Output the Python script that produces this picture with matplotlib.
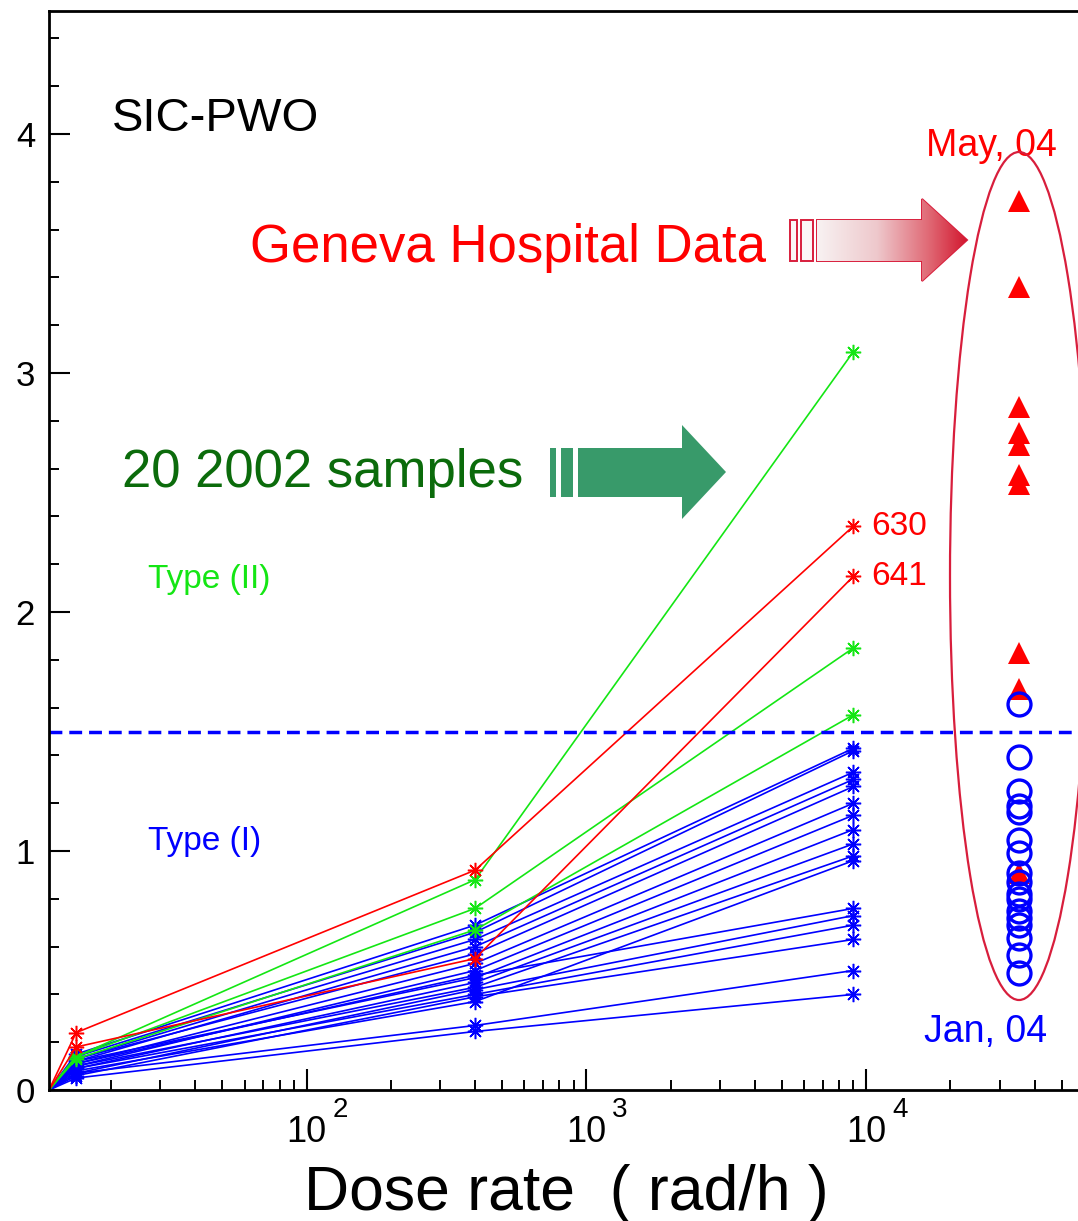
"""
SIC-PWO crystals: induced absorption versus dose rate, with the
Geneva Hospital data column on the right.
"""

import matplotlib
matplotlib.use("Agg")

import matplotlib.pyplot as plt
import numpy as np
from matplotlib.colors import LinearSegmentedColormap
from matplotlib.patches import Ellipse, Polygon, Rectangle
from matplotlib.ticker import FixedLocator, FuncFormatter, LogLocator, MultipleLocator, NullFormatter


FONT = "Liberation Sans"
plt.rcParams["font.family"] = [FONT, "DejaVu Sans"]

# dose rate points (rad/h); the first one is where every curve starts at zero
DOSE_RATES = [12, 15, 400, 9000]
HOSPITAL_RATE = 35000

RED_START = [0.24, 0.18]
RED_400 = [0.92, 0.55]
RED_9000 = [2.36, 2.15]
RED_LABELS = ["630", "641"]

GREEN_START = [0.14, 0.14, 0.13]
GREEN_400 = [0.88, 0.76, 0.67]
GREEN_9000 = [3.09, 1.85, 1.57]

BLUE_START = [0.15, 0.14, 0.13, 0.12, 0.13, 0.11, 0.10, 0.12, 0.09,
              0.10, 0.08, 0.11, 0.07, 0.09, 0.06, 0.07, 0.05]
BLUE_400 = [0.69, 0.66, 0.63, 0.60, 0.57, 0.53, 0.50, 0.47, 0.45,
            0.43, 0.37, 0.48, 0.42, 0.40, 0.39, 0.27, 0.245]
BLUE_9000 = [1.43, 1.42, 1.33, 1.30, 1.27, 1.20, 1.15, 1.09, 1.03,
             0.98, 0.96, 0.76, 0.73, 0.69, 0.63, 0.50, 0.40]

# Geneva Hospital measurements
MAY_04 = [3.72, 3.36, 2.86, 2.75, 2.70, 2.575, 2.535, 1.83, 1.68, 0.91]
JAN_04 = [1.615, 1.395, 1.25, 1.19, 1.165, 1.045, 0.99, 0.91, 0.87,
          0.82, 0.80, 0.75, 0.72, 0.69, 0.635, 0.565, 0.49]

TYPE_LIMIT = 1.5
X_TICKS = [1e2, 1e3, 1e4]
X_EXPONENTS = ["2", "3", "4"]

RED = "#ff0000"
GREEN = "#14e614"
BLUE = "#0000ff"
CRIMSON = "#d81e3c"
ARROW_GREEN = "#389a6a"
TEXT_GREEN = "#0b6b0b"

W, H = 1078, 1221
ASTERISK = (8, 2, 0)


def draw_series(ax, starts, mid, end, color):
    for a, b, c in zip(starts, mid, end):
        ax.plot(DOSE_RATES, [0, a, b, c], color=color, linewidth=1.2,
                marker=ASTERISK, markersize=11, markeredgewidth=1.1,
                markevery=[1, 2, 3])


def setup_axes(fig):
    ax = fig.add_axes([49 / W, (H - 1090) / H, (1084 - 49) / W, (1090 - 11) / H])
    ax.set_xscale("log")
    ax.set_xlim(12, 6e4)
    ax.set_ylim(0, 4.515)

    ax.xaxis.set_major_locator(FixedLocator(X_TICKS))
    ax.xaxis.set_major_formatter(FuncFormatter(lambda v, p: "10"))
    ax.xaxis.set_minor_locator(LogLocator(base=10, subs=range(2, 10)))
    ax.xaxis.set_minor_formatter(NullFormatter())
    ax.yaxis.set_major_locator(MultipleLocator(1))
    ax.yaxis.set_minor_locator(MultipleLocator(0.2))
    ax.yaxis.set_major_formatter(FuncFormatter(lambda v, p: f"{v:.0f}"))

    ax.tick_params(which="major", direction="in", length=15, width=1.5, labelsize=25)
    ax.tick_params(which="minor", direction="in", length=7.5, width=1.4)
    ax.tick_params(axis="y", pad=10)
    ax.tick_params(axis="x", pad=18, labelsize=26)
    for spine in ax.spines.values():
        spine.set_linewidth(2.0)

    for value, exp in zip(X_TICKS, X_EXPONENTS):
        ax.annotate(exp, (value, 0), xycoords=("data", "axes fraction"),
                    xytext=(18.5, -5.0), textcoords="offset points",
                    ha="left", va="top", fontsize=20)

    ax.set_xlabel("Dose rate  ( rad/h )", fontsize=45, va="baseline")
    ax.xaxis.set_label_coords(0.5, -120 / 1079)
    return ax


def draw_overlay(fig):
    """Arrows and the ellipse are drawn in pixel coordinates."""
    ov = fig.add_axes([0, 0, 1, 1], zorder=5)
    ov.set_xlim(0, W)
    ov.set_ylim(H, 0)
    ov.axis("off")
    ov.patch.set_alpha(0)

    ov.add_patch(Ellipse((1019, 576), 138, 848, fill=False, edgecolor=CRIMSON, linewidth=1.6))

    # green arrow
    for x0, x1 in [(550, 556), (561, 573)]:
        ov.add_patch(Rectangle((x0, 448), x1 - x0, 49, facecolor=ARROW_GREEN, edgecolor="none"))
    green_pts = [(578, 448), (682, 448), (682, 425), (726, 472), (682, 519), (682, 497), (578, 497)]
    ov.add_patch(Polygon(green_pts, closed=True, facecolor=ARROW_GREEN, edgecolor="none"))

    # red gradient arrow
    for x0, x1 in [(790, 797), (801, 813)]:
        ov.add_patch(Rectangle((x0, 220), x1 - x0, 41, facecolor="#fbf6f6",
                               edgecolor=CRIMSON, linewidth=1.4))
    red_pts = [(817, 220), (922, 220), (922, 199), (967, 240), (922, 281), (922, 261), (817, 261)]
    body = Polygon(red_pts, closed=True, facecolor="none", edgecolor=CRIMSON, linewidth=1.4)
    ov.add_patch(body)
    cmap = LinearSegmentedColormap.from_list(
        "geneva", [(0.0, "#f8f2f2"), (0.4, "#eec8cc"), (0.75, "#e06874"), (1.0, "#d2182f")])
    grad = np.linspace(0, 1, 256).reshape(1, -1)
    im = ov.imshow(grad, extent=[817, 967, 281, 199], cmap=cmap, aspect="auto", zorder=1)
    im.set_clip_path(body)
    ov.set_xlim(0, W)
    ov.set_ylim(H, 0)


def main():
    fig = plt.figure(figsize=(W / 100, H / 100), dpi=100)
    ax = setup_axes(fig)

    draw_series(ax, BLUE_START, BLUE_400, BLUE_9000, BLUE)
    draw_series(ax, GREEN_START, GREEN_400, GREEN_9000, GREEN)
    draw_series(ax, RED_START, RED_400, RED_9000, RED)

    ax.axhline(TYPE_LIMIT, color=BLUE, linewidth=2.5, linestyle=(0, (3.7, 2.0)))

    ax.plot([HOSPITAL_RATE] * len(MAY_04), MAY_04, linestyle="none", marker="^",
            markersize=16, color=RED, markeredgewidth=0)
    ax.plot([HOSPITAL_RATE] * len(JAN_04), JAN_04, linestyle="none", marker="o",
            markersize=16.5, markerfacecolor="none", markeredgecolor=BLUE, markeredgewidth=2.4)

    for label, value in zip(RED_LABELS, RED_9000):
        ax.annotate(label, (DOSE_RATES[-1], value), xytext=(13, 0), textcoords="offset points",
                    ha="left", va="center", fontsize=24, color=RED)

    # texts placed at their pixel positions in the figure
    fig.text(112 / W, 1 - 131 / H, "SIC-PWO", fontsize=34, color="black", va="baseline")
    fig.text(250 / W, 1 - 262 / H, "Geneva Hospital Data", fontsize=38, color=RED, va="baseline")
    fig.text(122 / W, 1 - 487 / H, "20 2002 samples", fontsize=38, color=TEXT_GREEN, va="baseline")
    fig.text(148 / W, 1 - 588 / H, "Type (II)", fontsize=24, color=GREEN, va="baseline")
    fig.text(148 / W, 1 - 850 / H, "Type (I)", fontsize=24, color=BLUE, va="baseline")
    fig.text(926 / W, 1 - 156 / H, "May, 04", fontsize=27, color=RED, va="baseline")
    fig.text(924 / W, 1 - 1042 / H, "Jan, 04", fontsize=27, color=BLUE, va="baseline")

    draw_overlay(fig)

    fig.savefig("out.png", dpi=100)
    plt.close(fig)


if __name__ == "__main__":
    main()
